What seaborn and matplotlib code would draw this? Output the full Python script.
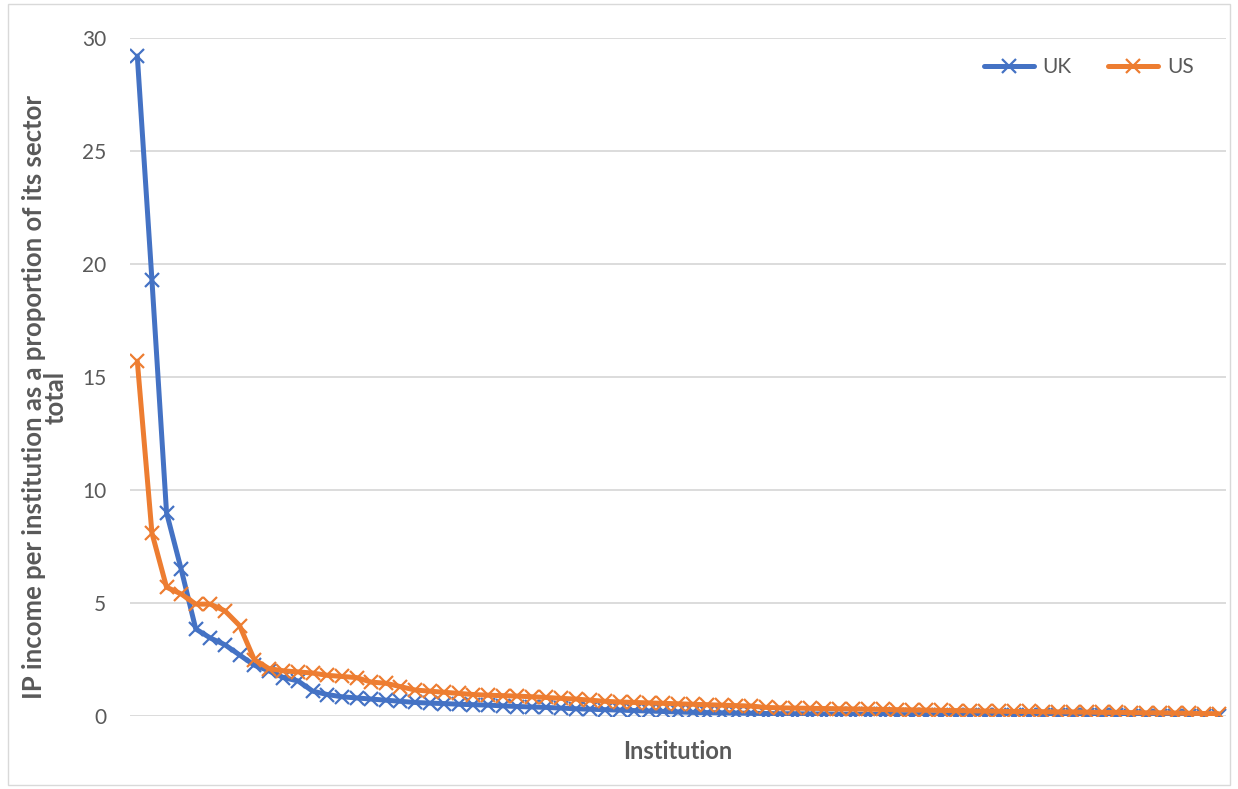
import matplotlib
matplotlib.use("Agg")
import matplotlib.pyplot as plt
import seaborn as sns
import pandas as pd
from matplotlib.patches import Rectangle

# IP income per institution as a share of its sector total, ranked high to low
uk_values = [
    29.2, 19.3, 9.0, 6.5, 3.85, 3.45, 3.15, 2.7, 2.25, 2.0,
    1.7, 1.55, 1.1, 0.95, 0.85, 0.8, 0.75, 0.7, 0.65, 0.6,
    0.57, 0.55, 0.52, 0.5, 0.48, 0.45, 0.42, 0.4, 0.38, 0.35,
    0.32, 0.3, 0.28, 0.26, 0.24, 0.22, 0.2, 0.18, 0.16, 0.15,
    0.14, 0.13, 0.12, 0.11, 0.1, 0.1, 0.09, 0.09, 0.08, 0.08,
    0.07, 0.07, 0.06, 0.06, 0.06, 0.05, 0.05, 0.05, 0.05, 0.04,
    0.04, 0.04, 0.04, 0.03, 0.03, 0.03, 0.03, 0.03, 0.02, 0.02,
    0.02, 0.02, 0.02, 0.02, 0.01,
]
us_values = [
    15.7, 8.1, 5.7, 5.4, 4.95, 4.95, 4.65, 4.0, 2.5, 2.1,
    2.0, 1.95, 1.9, 1.8, 1.75, 1.7, 1.5, 1.45, 1.3, 1.15,
    1.1, 1.05, 1.0, 0.95, 0.92, 0.9, 0.88, 0.85, 0.82, 0.78,
    0.75, 0.7, 0.65, 0.62, 0.6, 0.58, 0.56, 0.54, 0.52, 0.5,
    0.48, 0.46, 0.44, 0.38, 0.36, 0.35, 0.34, 0.33, 0.32, 0.31,
    0.3, 0.29, 0.28, 0.27, 0.26, 0.25, 0.24, 0.23, 0.22, 0.21,
    0.2, 0.2, 0.19, 0.18, 0.18, 0.17, 0.16, 0.16, 0.15, 0.14,
    0.14, 0.13, 0.12, 0.11, 0.1,
]
series_names = ["UK", "US"]
series_colors = {"UK": "#4472C4", "US": "#ED7D31"}
y_ticks = [0, 5, 10, 15, 20, 25, 30]

rank = list(range(1, len(uk_values) + 1))
df = pd.DataFrame({
    "rank": rank * 2,
    "value": uk_values + us_values,
    "country": ["UK"] * len(uk_values) + ["US"] * len(us_values),
})

sns.set_theme(style="white")
plt.rcParams["font.family"] = ["Lato", "DejaVu Sans"]

fig = plt.figure(figsize=(12.38, 7.89), dpi=100)
ax = fig.add_axes([130 / 1238, 1 - 716 / 789, (1226 - 130) / 1238, (716 - 38) / 789])

# outer chart frame
fig.patches.append(Rectangle((8 / 1238, 4 / 789), (1230 - 8) / 1238, (785 - 4) / 789,
                             transform=fig.transFigure, fill=False,
                             edgecolor="#d9d9d9", linewidth=1.0))

sns.lineplot(data=df, x="rank", y="value", hue="country", hue_order=series_names,
             palette=series_colors, marker="x", markersize=10, markeredgewidth=1.6,
             linewidth=3.6, ax=ax)
# cross markers drawn in the series colour
for line in ax.lines:
    line.set_markeredgecolor(line.get_color())
    line.set_markerfacecolor(line.get_color())

ax.set_xlim(0.5, len(uk_values) + 0.5)
ax.set_ylim(0, 30)
ax.set_yticks(y_ticks)
ax.set_yticklabels([str(t) for t in y_ticks], fontsize=15, color="#595959")
ax.set_xticks([])
ax.yaxis.grid(True, color="#d9d9d9", linewidth=1.3)
ax.set_axisbelow(True)
for s in ax.spines.values():
    s.set_visible(False)
ax.tick_params(axis="y", length=0, pad=17)

ax.set_xlabel("Institution", fontsize=17, fontweight="bold", color="#595959", labelpad=17)
ax.set_ylabel("IP income per institution as a proportion of its sector\ntotal",
              fontsize=18.5, fontweight="bold", color="#595959",
              linespacing=0.86)
ax.yaxis.set_label_coords(-0.057, 0.47)

leg = ax.legend(loc="center right", bbox_to_anchor=(0.978, 0.957), ncol=2, frameon=False,
                borderaxespad=0, fontsize=15, handlelength=2.4, columnspacing=1.8,
                handletextpad=0.4)
for t in leg.get_texts():
    t.set_color("#595959")
for h in leg.legend_handles:
    h.set_markeredgecolor(h.get_color())
    h.set_linewidth(3.6)

fig.savefig("out.png", dpi=100)
